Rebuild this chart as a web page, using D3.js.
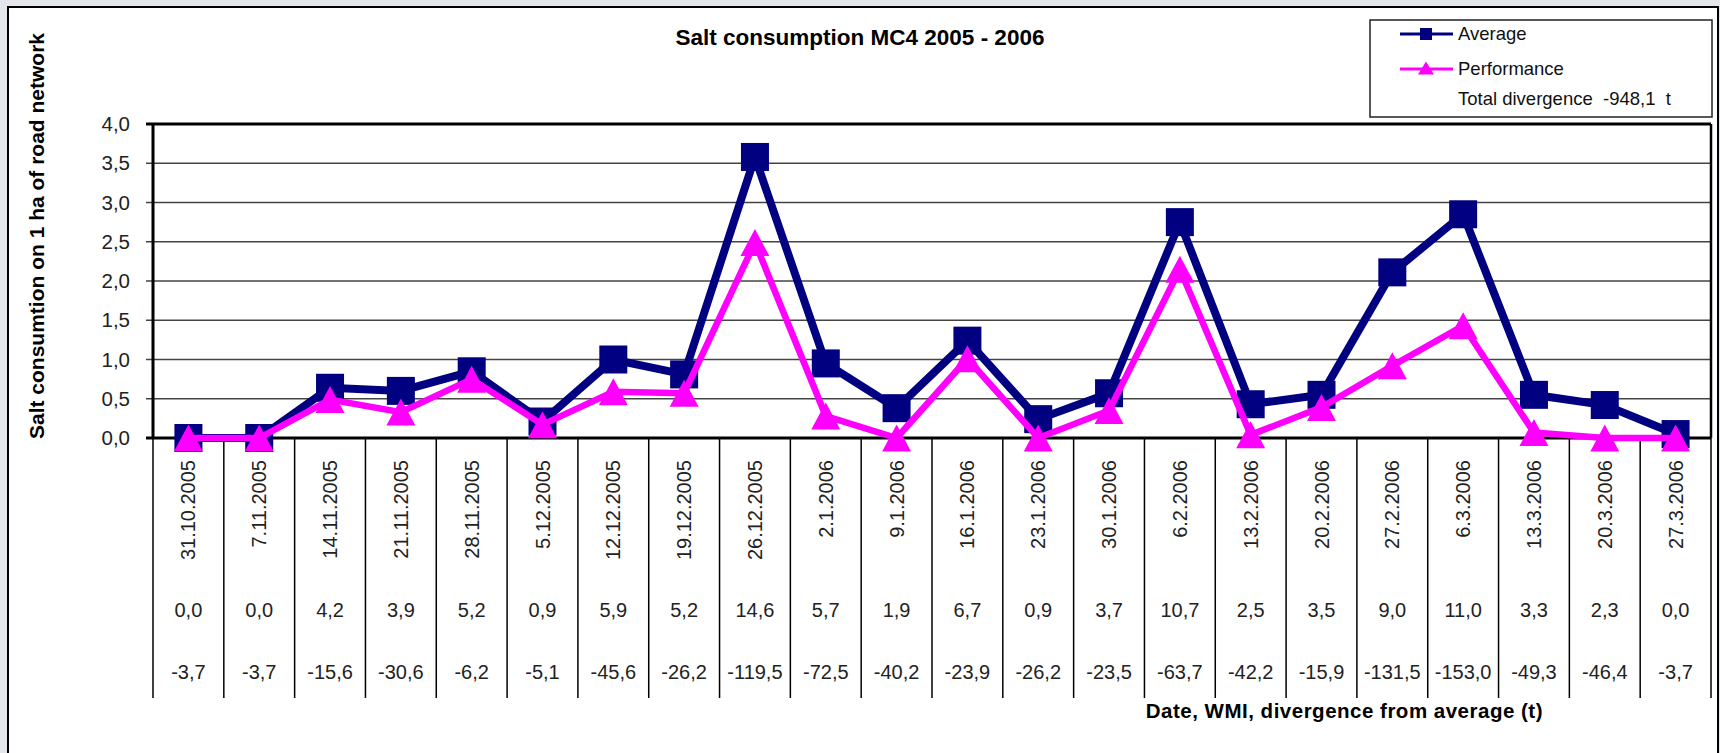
<!DOCTYPE html>
<html>
<head>
<meta charset="utf-8">
<script src="https://cdn.jsdelivr.net/npm/d3@7"></script>
<style>
  body { margin: 0; background: #e3e7eb; }
  text { font-family: "Liberation Sans", Arial, sans-serif; }
</style>
</head>
<body>
<div id="chart"></div>
<script>
// canvas
const canvWidth = 1720, canvHeight = 753;
const plot = {left: 153, right: 1711, top: 124, bottom: 438};

// data
const dates = ["31.10.2005", "7.11.2005", "14.11.2005", "21.11.2005", "28.11.2005", "5.12.2005",
    "12.12.2005", "19.12.2005", "26.12.2005", "2.1.2006", "9.1.2006", "16.1.2006", "23.1.2006",
    "30.1.2006", "6.2.2006", "13.2.2006", "20.2.2006", "27.2.2006", "6.3.2006", "13.3.2006",
    "20.3.2006", "27.3.2006"];
const average = [0.0, 0.0, 0.64, 0.60, 0.85, 0.21, 1.00, 0.81, 3.58, 0.95, 0.38, 1.24, 0.24,
    0.57, 2.75, 0.43, 0.55, 2.11, 2.85, 0.55, 0.42, 0.05];
const performance = [0.0, 0.0, 0.49, 0.33, 0.75, 0.17, 0.59, 0.57, 2.49, 0.28, 0.0, 1.01, 0.0,
    0.35, 2.15, 0.04, 0.39, 0.92, 1.43, 0.07, 0.0, 0.0];
const wmi = [0.0, 0.0, 4.2, 3.9, 5.2, 0.9, 5.9, 5.2, 14.6, 5.7, 1.9, 6.7, 0.9, 3.7, 10.7, 2.5,
    3.5, 9.0, 11.0, 3.3, 2.3, 0.0];
const divergence = [-3.7, -3.7, -15.6, -30.6, -6.2, -5.1, -45.6, -26.2, -119.5, -72.5, -40.2,
    -23.9, -26.2, -23.5, -63.7, -42.2, -15.9, -131.5, -153.0, -49.3, -46.4, -3.7];
const yTicks = [0, 0.5, 1, 1.5, 2, 2.5, 3, 3.5, 4];
const totalDivergence = "Total divergence  -948,1  t";

// excel style: comma decimal, plain hyphen
const fmt = v => v.toFixed(1).replace(".", ",");

const svg = d3.select("#chart").append("svg")
    .attr("width", canvWidth)
    .attr("height", canvHeight);

// outer frame
svg.append("rect")
    .attr("x", 8).attr("y", 7)
    .attr("width", 1710).attr("height", 800)
    .attr("fill", "#fff")
    .attr("stroke", "#000")
    .attr("stroke-width", 2);

const x = d3.scaleBand().domain(dates).range([plot.left, plot.right]);
const y = d3.scaleLinear().domain([0, 4]).range([plot.bottom, plot.top]);
const cx = d => x(d) + x.bandwidth() / 2;

// gridlines
svg.append("g")
    .selectAll("line")
    .data(yTicks)
    .join("line")
      .attr("x1", plot.left - 7).attr("x2", plot.right)
      .attr("y1", d => y(d)).attr("y2", d => y(d))
      .attr("stroke", d => d === 4 ? "#000" : "#444")
      .attr("stroke-width", d => d === 4 ? 3 : 1.6);

// y axis labels
svg.append("g")
    .selectAll("text")
    .data(yTicks)
    .join("text")
      .attr("x", 130)
      .attr("y", d => y(d))
      .attr("dy", "0.35em")
      .attr("text-anchor", "end")
      .attr("font-size", 20.5)
      .attr("fill", "#222")
      .text(fmt);

// plot border
svg.append("line")
    .attr("x1", plot.left).attr("x2", plot.left)
    .attr("y1", plot.top).attr("y2", plot.bottom)
    .attr("stroke", "#000").attr("stroke-width", 3);
svg.append("line")
    .attr("x1", plot.right).attr("x2", plot.right)
    .attr("y1", plot.top).attr("y2", plot.bottom)
    .attr("stroke", "#000").attr("stroke-width", 2.5);
svg.append("line")
    .attr("x1", plot.left - 7).attr("x2", plot.right)
    .attr("y1", plot.bottom).attr("y2", plot.bottom)
    .attr("stroke", "#000").attr("stroke-width", 3);

// data table under the chart
const bounds = dates.map(d => x(d)).concat([plot.right]);
svg.append("g")
    .selectAll("line")
    .data(bounds)
    .join("line")
      .attr("x1", d => d).attr("x2", d => d)
      .attr("y1", plot.bottom).attr("y2", 698)
      .attr("stroke", "#000")
      .attr("stroke-width", 1.5);

const table = svg.append("g").attr("font-size", 20).attr("fill", "#222");
table.selectAll(".date")
    .data(dates)
    .join("text")
      .attr("class", "date")
      .attr("text-anchor", "end")
      .attr("transform", d => `translate(${cx(d) + 7},460) rotate(-90)`)
      .text(d => d);
table.selectAll(".wmi")
    .data(wmi)
    .join("text")
      .attr("class", "wmi")
      .attr("text-anchor", "middle")
      .attr("x", (d, i) => cx(dates[i]))
      .attr("y", 617)
      .text(fmt);
table.selectAll(".div")
    .data(divergence)
    .join("text")
      .attr("class", "div")
      .attr("text-anchor", "middle")
      .attr("x", (d, i) => cx(dates[i]))
      .attr("y", 679)
      .text(fmt);

// series
const line = d3.line().x((d, i) => cx(dates[i])).y(d => y(d));
const triangle = (w, h) => `M0,${-h / 2}L${w / 2},${h / 2}L${-w / 2},${h / 2}Z`;

svg.append("path")
    .datum(average)
    .attr("d", line)
    .attr("fill", "none")
    .attr("stroke", "#000080")
    .attr("stroke-width", 8);
svg.selectAll(".sq")
    .data(average)
    .join("rect")
      .attr("class", "sq")
      .attr("x", (d, i) => cx(dates[i]) - 14)
      .attr("y", d => y(d) - 14)
      .attr("width", 28).attr("height", 28)
      .attr("fill", "#000080");

svg.append("path")
    .datum(performance)
    .attr("d", line)
    .attr("fill", "none")
    .attr("stroke", "#ff00ff")
    .attr("stroke-width", 6.5);
svg.selectAll(".tri")
    .data(performance)
    .join("path")
      .attr("class", "tri")
      .attr("d", triangle(29, 27))
      .attr("transform", (d, i) => `translate(${cx(dates[i])},${y(d)})`)
      .attr("fill", "#ff00ff");

// titles
svg.append("text")
    .attr("x", 860).attr("y", 45)
    .attr("text-anchor", "middle")
    .attr("font-size", 22.5)
    .attr("font-weight", "bold")
    .text("Salt consumption MC4 2005 - 2006");

svg.append("text")
    .attr("transform", "translate(44,236) rotate(-90)")
    .attr("text-anchor", "middle")
    .attr("font-size", 21)
    .attr("font-weight", "bold")
    .text("Salt consumtion on 1 ha of road network");

svg.append("text")
    .attr("x", 1543).attr("y", 718)
    .attr("text-anchor", "end")
    .attr("font-size", 20.5)
    .attr("font-weight", "bold")
    .attr("letter-spacing", 0.5)
    .text("Date, WMI, divergence from average (t)");

// legend
const legend = svg.append("g");
legend.append("rect")
    .attr("x", 1370).attr("y", 20)
    .attr("width", 342).attr("height", 97)
    .attr("fill", "#fff")
    .attr("stroke", "#222")
    .attr("stroke-width", 1.5);

legend.append("line")
    .attr("x1", 1400).attr("x2", 1453).attr("y1", 34).attr("y2", 34)
    .attr("stroke", "#000080").attr("stroke-width", 3);
legend.append("rect")
    .attr("x", 1420).attr("y", 28).attr("width", 12).attr("height", 12)
    .attr("fill", "#000080");
legend.append("line")
    .attr("x1", 1400).attr("x2", 1453).attr("y1", 69).attr("y2", 69)
    .attr("stroke", "#ff00ff").attr("stroke-width", 3);
legend.append("path")
    .attr("d", triangle(16, 13))
    .attr("transform", "translate(1426,68)")
    .attr("fill", "#ff00ff");

legend.selectAll("text")
    .data(["Average", "Performance", totalDivergence])
    .join("text")
      .attr("x", 1458)
      .attr("y", (d, i) => [34, 69, 99][i])
      .attr("dy", "0.35em")
      .attr("font-size", 18.5)
      .attr("fill", "#111")
      .style("white-space", "pre")
      .text(d => d);
</script>
</body>
</html>
